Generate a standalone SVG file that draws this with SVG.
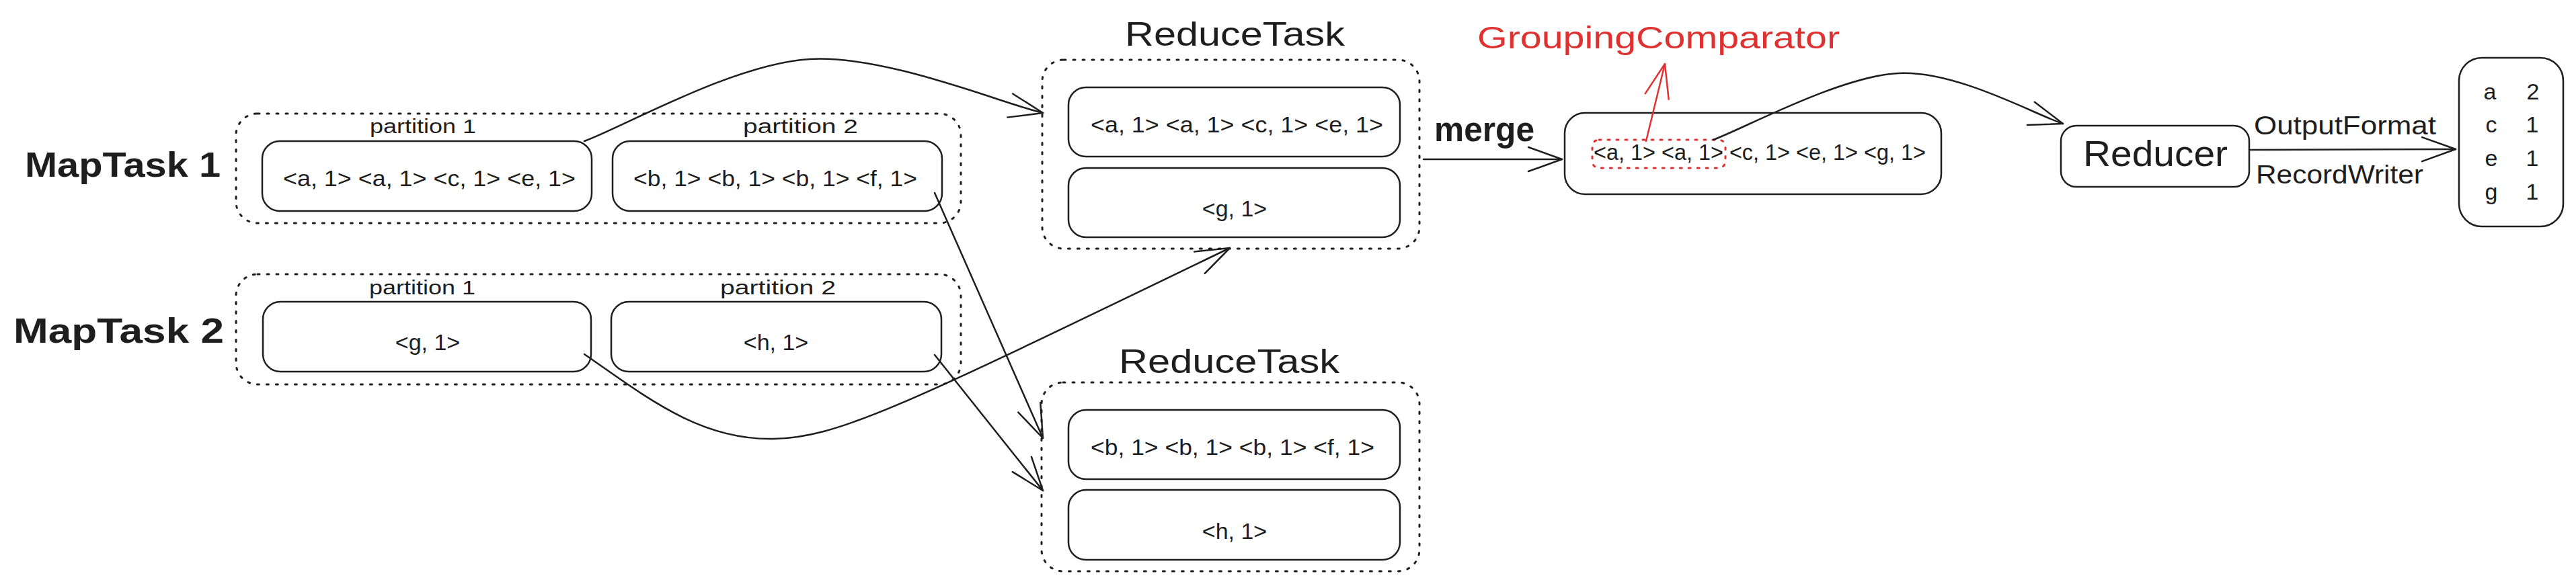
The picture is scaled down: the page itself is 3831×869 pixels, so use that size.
<svg xmlns="http://www.w3.org/2000/svg" width="3831" height="869" viewBox="0 0 3831 869">
<style>
  .box { fill: none; stroke: #1e1e1e; stroke-width: 2.5; }
  .grp { fill: none; stroke: #1e1e1e; stroke-width: 3; stroke-dasharray: 3 11; stroke-linecap: round; }
  .redgrp { fill: none; stroke: #e03131; stroke-width: 3; stroke-dasharray: 3 10; stroke-linecap: round; }
  .conn { fill: none; stroke: #1e1e1e; stroke-width: 2.5; stroke-linecap: round; }
  .redconn { fill: none; stroke: #e03131; stroke-width: 2.5; stroke-linecap: round; }
  text { font-family: "Liberation Sans", Arial, sans-serif; fill: #1e1e1e; }
  .kv { font-size: 34px; }
  .part { font-size: 30px; }
  .title { font-size: 50px; }
  .big { font-size: 52px; font-weight: bold; }
  .lbl { font-size: 38px; }
  .red { fill: #e03131; font-size: 47px; }
</style>
<defs>
  <marker id="ah" markerUnits="userSpaceOnUse" markerWidth="60" markerHeight="50" viewBox="-55 -25 60 50" refX="0" refY="0" orient="auto">
    <path d="M -50 -18 L 0 0 L -50 18" fill="none" stroke="#1e1e1e" stroke-width="2.5" stroke-linecap="round" stroke-linejoin="round"/>
  </marker>
  <marker id="ahr" markerUnits="userSpaceOnUse" markerWidth="60" markerHeight="50" viewBox="-55 -25 60 50" refX="0" refY="0" orient="auto">
    <path d="M -50 -18 L 0 0 L -50 18" fill="none" stroke="#e03131" stroke-width="2.5" stroke-linecap="round" stroke-linejoin="round"/>
  </marker>
</defs>
<rect width="3831" height="869" fill="#ffffff"/>

<g id="maptask1">
  <text class="big" x="37" y="263" textLength="291" lengthAdjust="spacingAndGlyphs">MapTask 1</text>
  <rect class="grp" x="351" y="169" width="1078" height="163" rx="32"/>
</g>
<g id="m1p1">
  <text class="part" x="550" y="198" textLength="158" lengthAdjust="spacingAndGlyphs">partition 1</text>
  <rect class="box" x="390" y="210" width="490" height="104" rx="26"/>
  <text class="kv" x="421" y="277" textLength="435" lengthAdjust="spacingAndGlyphs">&lt;a, 1&gt; &lt;a, 1&gt; &lt;c, 1&gt; &lt;e, 1&gt;</text>
</g>
<g id="m1p2">
  <text class="part" x="1105" y="198" textLength="171" lengthAdjust="spacingAndGlyphs">partition 2</text>
  <rect class="box" x="911" y="210" width="490" height="104" rx="26"/>
  <text class="kv" x="942" y="277" textLength="422" lengthAdjust="spacingAndGlyphs">&lt;b, 1&gt; &lt;b, 1&gt; &lt;b, 1&gt; &lt;f, 1&gt;</text>
</g>

<g id="maptask2">
  <text class="big" x="20" y="510" textLength="313" lengthAdjust="spacingAndGlyphs">MapTask 2</text>
  <rect class="grp" x="351" y="408" width="1078" height="164" rx="32"/>
</g>
<g id="m2p1">
  <text class="part" x="549" y="438" textLength="158" lengthAdjust="spacingAndGlyphs">partition 1</text>
  <rect class="box" x="391" y="449" width="488" height="104" rx="26"/>
  <text class="kv" x="636" y="521" text-anchor="middle">&lt;g, 1&gt;</text>
</g>
<g id="m2p2">
  <text class="part" x="1071" y="438" textLength="172" lengthAdjust="spacingAndGlyphs">partition 2</text>
  <rect class="box" x="909" y="449" width="491" height="104" rx="26"/>
  <text class="kv" x="1154" y="521" text-anchor="middle">&lt;h, 1&gt;</text>
</g>

<g id="reducetask1">
  <text class="title" x="1673" y="68" textLength="327" lengthAdjust="spacingAndGlyphs">ReduceTask</text>
  <rect class="grp" x="1550" y="89" width="561" height="281" rx="32"/>
</g>
<g id="rt1a">
  <rect class="box" x="1589" y="130" width="493" height="103" rx="26"/>
  <text class="kv" x="1622" y="197" textLength="435" lengthAdjust="spacingAndGlyphs">&lt;a, 1&gt; &lt;a, 1&gt; &lt;c, 1&gt; &lt;e, 1&gt;</text>
</g>
<g id="rt1b">
  <rect class="box" x="1589" y="250" width="493" height="103" rx="26"/>
  <text class="kv" x="1836" y="322" text-anchor="middle">&lt;g, 1&gt;</text>
</g>

<g id="reducetask2">
  <text class="title" x="1664" y="555" textLength="328" lengthAdjust="spacingAndGlyphs">ReduceTask</text>
  <rect class="grp" x="1549" y="569" width="562" height="281" rx="32"/>
</g>
<g id="rt2a">
  <rect class="box" x="1589" y="610" width="493" height="103" rx="26"/>
  <text class="kv" x="1622" y="677" textLength="422" lengthAdjust="spacingAndGlyphs">&lt;b, 1&gt; &lt;b, 1&gt; &lt;b, 1&gt; &lt;f, 1&gt;</text>
</g>
<g id="rt2b">
  <rect class="box" x="1589" y="729" width="493" height="104" rx="26"/>
  <text class="kv" x="1836" y="802" text-anchor="middle">&lt;h, 1&gt;</text>
</g>

<g id="merged">
  <rect class="box" x="2327" y="168" width="560" height="121" rx="30"/>
  <text class="kv" x="2370" y="238" textLength="494" lengthAdjust="spacingAndGlyphs">&lt;a, 1&gt; &lt;a, 1&gt; &lt;c, 1&gt; &lt;e, 1&gt; &lt;g, 1&gt;</text>
</g>
<g id="grouping">
  <rect class="redgrp" x="2368" y="208" width="198" height="42" rx="10"/>
  <text class="red" x="2197" y="72" textLength="539" lengthAdjust="spacingAndGlyphs">GroupingComparator</text>
</g>

<g id="reducer">
  <rect class="box" x="3065" y="187" width="280" height="91" rx="23"/>
  <text style="font-size:54px" x="3098" y="247" textLength="215" lengthAdjust="spacingAndGlyphs">Reducer</text>
</g>

<g id="output">
  <rect class="box" x="3657" y="86" width="155" height="251" rx="34"/>
  <text class="kv" x="3703" y="148" text-anchor="middle">a</text>
  <text class="kv" x="3767" y="148" text-anchor="middle">2</text>
  <text class="kv" x="3705" y="197" text-anchor="middle">c</text>
  <text class="kv" x="3766" y="197" text-anchor="middle">1</text>
  <text class="kv" x="3705" y="247" text-anchor="middle">e</text>
  <text class="kv" x="3766" y="247" text-anchor="middle">1</text>
  <text class="kv" x="3705" y="297" text-anchor="middle">g</text>
  <text class="kv" x="3766" y="297" text-anchor="middle">1</text>
</g>

<g id="connectors">
  <path class="conn" d="M 869 210 C 925 190, 1090 95, 1204 88 C 1318 81, 1493 155, 1551 168" marker-end="url(#ah)"/>
  <path class="conn" d="M 1390 287 L 1551 652" marker-end="url(#ah)"/>
  <path class="conn" d="M 869 527 C 960 590, 1040 655, 1150 653 C 1250 651, 1350 600, 1829 369" marker-end="url(#ah)"/>
  <path class="conn" d="M 1390 528 L 1551 730" marker-end="url(#ah)"/>
  <path class="conn" d="M 2117 237 L 2323 237" marker-end="url(#ah)"/>
  <text class="big" x="2133" y="210" textLength="149" lengthAdjust="spacingAndGlyphs">merge</text>
  <path class="redconn" d="M 2448 210 L 2476 95" marker-end="url(#ahr)"/>
  <path class="conn" d="M 2548 208 C 2594 191, 2737 113, 2824 109 C 2911 105, 3027 171, 3068 184" marker-end="url(#ah)"/>
  <path class="conn" d="M 3347 223 L 3652 222" marker-end="url(#ah)"/>
  <text class="lbl" x="3352" y="200" textLength="271" lengthAdjust="spacingAndGlyphs">OutputFormat</text>
  <text class="lbl" x="3355" y="273" textLength="249" lengthAdjust="spacingAndGlyphs">RecordWriter</text>
</g>
</svg>
